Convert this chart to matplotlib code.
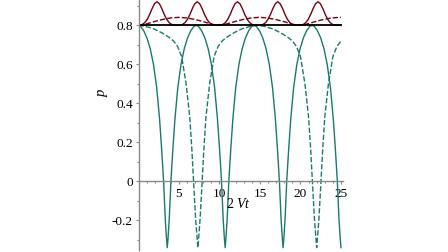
import matplotlib
matplotlib.use("Agg")
import matplotlib.pyplot as plt
from matplotlib.ticker import MultipleLocator, FixedLocator

# values (time axis = 2Vt, p)
green_solid_t = [0.00, 0.25, 0.65, 1.05, 1.45, 1.85, 2.25, 2.60, 2.85, 3.10, 3.30, 3.45, 3.55,
                 3.65, 3.80, 4.00, 4.25, 4.50, 4.85, 5.25, 5.65, 6.05, 6.45, 6.85, 7.15,
                 7.40, 7.80, 8.20, 8.60, 9.00, 9.40, 9.75, 10.00, 10.25, 10.45, 10.60, 10.70,
                 10.80, 10.95, 11.15, 11.40, 11.65, 12.00, 12.40, 12.80, 13.20, 13.60, 14.00, 14.30,
                 14.55, 14.95, 15.35, 15.75, 16.15, 16.55, 16.90, 17.15, 17.40, 17.60, 17.75, 17.85,
                 17.95, 18.10, 18.30, 18.55, 18.80, 19.15, 19.55, 19.95, 20.35, 20.75, 21.15, 21.45,
                 21.70, 22.10, 22.50, 22.90, 23.30, 23.70, 24.05, 24.30, 24.55, 24.75, 24.90, 25.00]
green_solid_p = [0.80, 0.795, 0.772, 0.735, 0.68, 0.60, 0.48, 0.32, 0.17, 0.00, -0.19, -0.29, -0.34,
                 -0.29, -0.19, 0.00, 0.17, 0.32, 0.48, 0.60, 0.68, 0.735, 0.772, 0.795, 0.80,
                 0.795, 0.772, 0.735, 0.68, 0.60, 0.48, 0.32, 0.17, 0.00, -0.19, -0.29, -0.34,
                 -0.29, -0.19, 0.00, 0.17, 0.32, 0.48, 0.60, 0.68, 0.735, 0.772, 0.795, 0.80,
                 0.795, 0.772, 0.735, 0.68, 0.60, 0.48, 0.32, 0.17, 0.00, -0.19, -0.29, -0.34,
                 -0.29, -0.19, 0.00, 0.17, 0.32, 0.48, 0.60, 0.68, 0.735, 0.772, 0.795, 0.80,
                 0.795, 0.772, 0.735, 0.68, 0.60, 0.48, 0.32, 0.17, 0.00, -0.19, -0.29, -0.34]

green_dash_t = [0.00, 0.83, 1.83, 2.83, 3.73, 4.33, 4.83, 5.33, 5.88, 6.33, 6.58, 6.80, 7.05, 7.23, 7.33,
                7.43, 7.61, 7.86, 8.08, 8.33, 8.78, 9.33, 9.83, 10.33, 10.93, 11.83, 12.83, 13.83, 14.66,
                15.50, 16.50, 17.50, 18.40, 19.00, 19.50, 20.00, 20.55, 21.00, 21.25, 21.47, 21.72, 21.90, 22.00,
                22.10, 22.28, 22.53, 22.75, 23.00, 23.45, 24.00, 24.50, 25.00]
green_dash_p = [0.80, 0.795, 0.783, 0.763, 0.740, 0.720, 0.692, 0.640, 0.500, 0.33, 0.17, 0.00, -0.19, -0.29, -0.34,
                -0.29, -0.19, 0.00, 0.17, 0.33, 0.500, 0.640, 0.692, 0.720, 0.740, 0.763, 0.783, 0.795, 0.80,
                0.795, 0.783, 0.763, 0.740, 0.720, 0.692, 0.640, 0.500, 0.33, 0.17, 0.00, -0.19, -0.29, -0.34,
                -0.29, -0.19, 0.00, 0.17, 0.33, 0.500, 0.640, 0.692, 0.720]

red_solid_t = [0.00,
               0.18, 0.48, 0.78, 1.08, 1.38, 1.68, 1.98, 2.28, 2.58, 2.88, 3.18, 3.48, 3.78, 4.08, 4.38,
               5.15, 5.45, 5.75, 6.05, 6.35, 6.65, 6.95, 7.25, 7.55, 7.85, 8.15, 8.45, 8.75, 9.05, 9.35,
               10.12, 10.42, 10.72, 11.02, 11.32, 11.62, 11.92, 12.22, 12.52, 12.82, 13.12, 13.42, 13.72, 14.02, 14.32,
               15.09, 15.39, 15.69, 15.99, 16.29, 16.59, 16.89, 17.19, 17.49, 17.79, 18.09, 18.39, 18.69, 18.99, 19.29,
               20.06, 20.36, 20.66, 20.96, 21.26, 21.56, 21.86, 22.16, 22.46, 22.76, 23.06, 23.36, 23.66, 23.96, 24.26,
               25.00]
red_solid_p = [0.80,
               0.801, 0.805, 0.814, 0.831, 0.856, 0.886, 0.911, 0.921, 0.911, 0.886, 0.856, 0.831, 0.814, 0.805, 0.801,
               0.801, 0.805, 0.814, 0.831, 0.856, 0.886, 0.911, 0.921, 0.911, 0.886, 0.856, 0.831, 0.814, 0.805, 0.801,
               0.801, 0.805, 0.814, 0.831, 0.856, 0.886, 0.911, 0.921, 0.911, 0.886, 0.856, 0.831, 0.814, 0.805, 0.801,
               0.801, 0.805, 0.814, 0.831, 0.856, 0.886, 0.911, 0.921, 0.911, 0.886, 0.856, 0.831, 0.814, 0.805, 0.801,
               0.801, 0.805, 0.814, 0.831, 0.856, 0.886, 0.911, 0.921, 0.911, 0.886, 0.856, 0.831, 0.814, 0.805, 0.801,
               0.80]

red_dash_t = [0.00, 0.67, 1.27, 1.77, 2.37, 2.97, 3.97, 4.97, 5.97, 6.97, 7.57, 8.17, 8.67, 9.27, 9.94,
              10.61, 11.21, 11.71, 12.31, 12.91, 13.91, 14.91, 15.91, 16.91, 17.51, 18.11, 18.61, 19.21, 19.88,
              20.55, 21.15, 21.65, 22.25, 22.85, 23.85, 24.85, 25.00]
red_dash_p = [0.80, 0.804, 0.811, 0.817, 0.824, 0.830, 0.838, 0.841, 0.838, 0.830, 0.824, 0.817, 0.811, 0.804, 0.80,
              0.804, 0.811, 0.817, 0.824, 0.830, 0.838, 0.841, 0.838, 0.830, 0.824, 0.817, 0.811, 0.804, 0.80,
              0.804, 0.811, 0.817, 0.824, 0.830, 0.838, 0.841, 0.841]

baseline_p = 0.8
x_ticks = [5, 10, 15, 20, 25]
y_ticks = [-0.2, 0, 0.2, 0.4, 0.6, 0.8]
y_tick_labels = ["-0.2", "0", "0.2", "0.4", "0.6", "0.8"]

GREEN = "#1a7a6c"
RED = "#78000e"
AXIS_GREY = "#8a8a8a"

plt.rcParams["font.family"] = ["Liberation Serif", "DejaVu Serif"]
plt.rcParams["mathtext.fontset"] = "custom"
plt.rcParams["mathtext.it"] = "Liberation Serif:italic"
plt.rcParams["mathtext.rm"] = "Liberation Serif"

fig = plt.figure(figsize=(4.48, 2.52), dpi=100)
ax = fig.add_axes([138.5 / 448, 2.4 / 252, 204.1 / 448, 249.6 / 252])

ax.plot(green_solid_t, green_solid_p, color=GREEN, lw=1.0)
ln, = ax.plot(green_dash_t, green_dash_p, color=GREEN, lw=1.0)
ln.set_dashes((3.8, 1.5))
ax.plot(red_solid_t, red_solid_p, color=RED, lw=1.0)
ln, = ax.plot(red_dash_t, red_dash_p, color=RED, lw=1.0)
ln.set_dashes((3.8, 1.5))
ax.plot([0, 25], [baseline_p, baseline_p], color="black", lw=1.3)

ax.set_xlim(0, 25.2)
ax.set_ylim(-0.35, 0.93)

for side in ("top", "right"):
    ax.spines[side].set_visible(False)
for side in ("left", "bottom"):
    ax.spines[side].set_position(("data", 0))
    ax.spines[side].set_color(AXIS_GREY)
    ax.spines[side].set_linewidth(1.0)

ax.xaxis.set_major_locator(FixedLocator(x_ticks))
ax.xaxis.set_minor_locator(MultipleLocator(1))
ax.set_yticks(y_ticks)
ax.set_yticklabels(y_tick_labels)
ax.yaxis.set_minor_locator(MultipleLocator(0.1))
ax.tick_params(which="major", direction="out", length=2.5, width=0.8, color=AXIS_GREY,
               labelsize=9.5, pad=1.5)
ax.tick_params(which="minor", direction="out", length=1.2, width=0.8, color=AXIS_GREY)
ax.tick_params(axis="x", which="major", pad=2.0)

fig.text(103 / 448, 1 - 92 / 252, "$p$", rotation=90, fontsize=10.5, ha="center", va="center")
fig.text(239 / 448, 1 - 204 / 252, r"2 $Vt$", fontsize=10, ha="center", va="center")

fig.savefig("out.png", dpi=100)
